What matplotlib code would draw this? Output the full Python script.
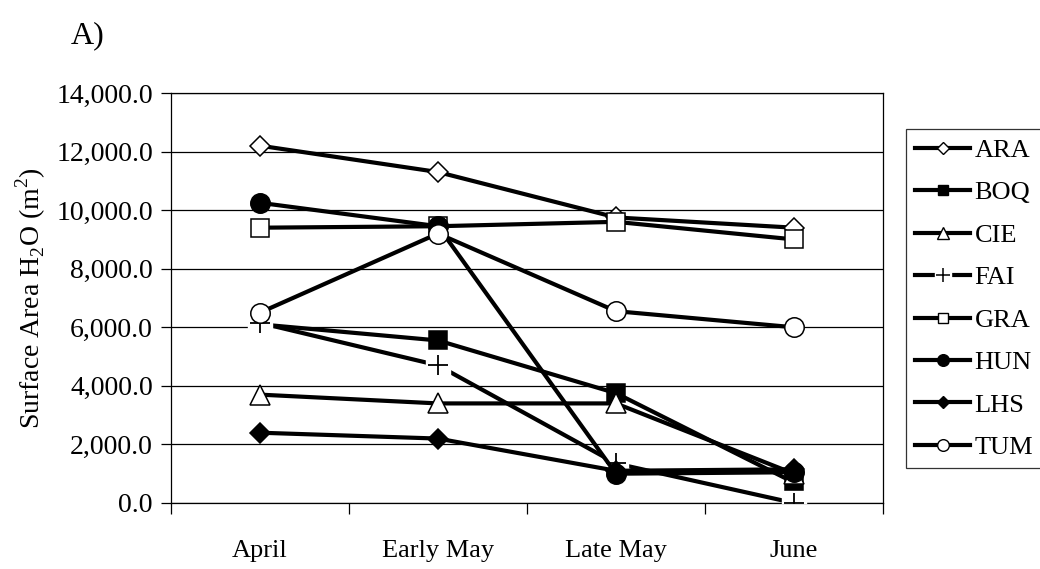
import matplotlib
matplotlib.use("Agg")
import matplotlib.pyplot as plt
from matplotlib.lines import Line2D
from matplotlib.legend_handler import HandlerTuple
from matplotlib.ticker import FuncFormatter

plt.rcParams["font.family"] = ["Liberation Serif", "DejaVu Serif"]
plt.rcParams["mathtext.fontset"] = "custom"
plt.rcParams["mathtext.rm"] = "Liberation Serif"

cats = ["April", "Early May", "Late May", "June"]
ARA = [12200, 11300, 9750, 9400]
BOQ = [6100, 5550, 3750, 700]
CIE = [3700, 3400, 3400, 1000]
FAI = [6150, 4700, 1350, 0]
GRA = [9400, 9450, 9600, 9000]
HUN = [10250, 9450, 1000, 1050]
LHS = [2400, 2200, 1100, 1150]
TUM = [6500, 9200, 6550, 6000]

names = ["ARA", "BOQ", "CIE", "FAI", "GRA", "HUN", "LHS", "TUM"]
series = [ARA, BOQ, CIE, FAI, GRA, HUN, LHS, TUM]
# marker, face colour, size in plot
styles = {
    "ARA": ("D", "white", 10),
    "BOQ": ("s", "black", 13),
    "CIE": ("^", "white", 14),
    "FAI": ("+", "black", 15),
    "GRA": ("s", "white", 13),
    "HUN": ("o", "black", 14),
    "LHS": ("D", "black", 10),
    "TUM": ("o", "white", 14),
}

fig = plt.figure(figsize=(10.4, 5.69), dpi=100)
ax = fig.add_axes([0.1644, 0.116, 0.6846, 0.7206])

x = [i + 0.5 for i in range(len(cats))]
handles = []
for name, vals in zip(names, series):
    m, fc, ms = styles[name]
    if name == "FAI":
        ax.plot(x, vals, color="black", lw=3, zorder=3)
        ax.plot(x, vals, ls="none", marker="s", ms=17, mfc="white", mec="white", zorder=3)
        ax.plot(x, vals, ls="none", marker="+", ms=ms, mec="black", mew=1.3, zorder=3)
        h = (Line2D([], [], color="black", lw=3, marker="s", ms=11, mfc="white", mec="white"),
             Line2D([], [], ls="none", marker="+", ms=10, mec="black", mew=1.1))
    else:
        ax.plot(x, vals, color="black", lw=3, marker=m, ms=ms, mfc=fc, mec="black", mew=1.1, zorder=3)
        h = Line2D([], [], color="black", lw=3, marker=m, ms=ms * 0.6, mfc=fc, mec="black", mew=1.0)
    handles.append(h)

ax.set_xlim(0, 4)
ax.set_ylim(0, 14000)
ax.set_yticks(range(0, 14001, 2000))
ax.yaxis.set_major_formatter(FuncFormatter(lambda v, p: "{:,.1f}".format(v)))
ax.yaxis.grid(True, color="black", lw=0.9)
ax.set_axisbelow(True)

ax.set_xticks([0, 1, 2, 3, 4])
ax.set_xticklabels([])
ax.set_xticks(x, minor=True)
ax.set_xticklabels(cats, minor=True)
ax.tick_params(axis="x", which="major", direction="out", length=8, width=0.9)
ax.tick_params(axis="x", which="minor", length=0, pad=27, labelsize=19)
ax.tick_params(axis="y", direction="out", length=7, width=0.9, pad=6, labelsize=20)

for sp in ax.spines.values():
    sp.set_linewidth(0.9)

ax.set_ylabel(r"Surface Area H$_\mathregular{2}$O (m$^\mathregular{2}$)", fontsize=20, labelpad=6)

fig.text(0.068, 0.962, "A)", fontsize=23, va="top", ha="left")

leg = fig.legend(handles, names, loc="upper left", bbox_to_anchor=(0.871, 0.773),
                 borderaxespad=0, fontsize=19, frameon=True, fancybox=False,
                 edgecolor="black", handlelength=2.1, handletextpad=0.15,
                 labelspacing=0.72, borderpad=0.35, numpoints=1,
                 handler_map={tuple: HandlerTuple(ndivide=1, pad=0)})
leg.get_frame().set_linewidth(0.9)

fig.savefig("out.png", dpi=100)
